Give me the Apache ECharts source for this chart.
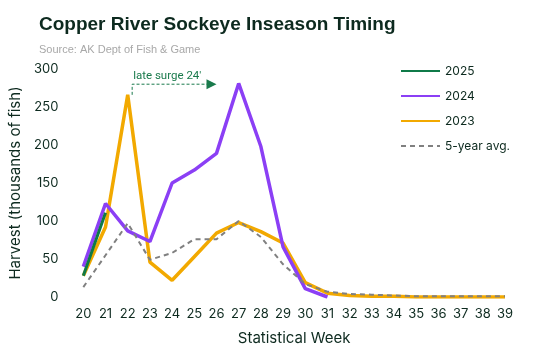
<!DOCTYPE html>
<html><head><meta charset="utf-8">
<script src="https://cdn.jsdelivr.net/npm/echarts@6/dist/echarts.min.js"></script>
<style>html,body{margin:0;padding:0;background:#fff}#c{width:535px;height:355px}</style>
</head><body><div id="c"></div>
<script>
const weeks = ['20','21','22','23','24','25','26','27','28','29','30','31','32','33','34','35','36','37','38','39'];
const s2025 = [28, 111];
const s2024 = [40, 123, 87, 73, 150, 167, 189, 281, 198, 66, 11, 0];
const s2023 = [28, 92, 266, 46, 22, 53, 84, 98, 86, 71, 19, 5, 2, 1, 1, 0, 0, 0, 0, 0];
const sAvg  = [13, 55, 97, 49, 58, 76, 76, 100, 79, 43, 17, 7, 4, 3, 2, 1, 1, 1, 1, 1];
const yTicks = [0, 50, 100, 150, 200, 250, 300];

const font = 'Inter, Roboto, sans-serif';
const dark = '#0d2a1f';
const chart = echarts.init(document.getElementById('c'), null, {renderer:'canvas'});
chart.setOption({
  animation:false,
  title:[{text:'Copper River Sockeye Inseason Timing', left:34, top:10,
    textStyle:{fontFamily:'Liberation Sans, Arial, sans-serif', fontWeight:'bold', fontSize:19, color:dark}},
    {text:'Source: AK Dept of Fish & Game', left:34, top:39,
    textStyle:{fontFamily:'Liberation Sans, Arial, sans-serif', fontWeight:'normal', fontSize:11, color:'#a8a8a8'}}],
  legend:{orient:'vertical', left:395, top:60, itemWidth:39, itemHeight:12, itemGap:13,
    itemStyle:{opacity:0},
    textStyle:{fontFamily:font, fontSize:12, color:dark},
    data:['2025','2024','2023','5-year avg.']},
  grid:{left:79, right:30, top:69, bottom:58},
  xAxis:{type:'category', data:weeks, boundaryGap:false,
    axisLine:{show:false}, axisTick:{show:false},
    axisLabel:{fontFamily:font, fontSize:13, color:dark, margin:11, interval:0},
    name:'Statistical Week', nameLocation:'middle', nameGap:34,
    nameTextStyle:{fontFamily:font, fontSize:15, color:dark}},
  yAxis:{type:'value', min:0, max:300, interval:50,
    axisLine:{show:false}, axisTick:{show:false}, splitLine:{show:false},
    axisLabel:{fontFamily:font, fontSize:13, color:dark, margin:25,
      formatter:v=>yTicks.includes(v)?String(v):''},
    name:'Harvest (thousands of fish)', nameLocation:'middle', nameGap:40,
    nameTextStyle:{fontFamily:font, fontSize:15, color:dark}},
  series:[
    {name:'2023', type:'line', data:s2023, symbol:'none', z:2,
      lineStyle:{color:'#f2a900', width:3.5}, itemStyle:{color:'#f2a900'}},
    {name:'2024', type:'line', data:s2024, symbol:'none', z:3,
      lineStyle:{color:'#8b3ff5', width:3.5}, itemStyle:{color:'#8b3ff5'}},
    {name:'5-year avg.', type:'line', data:sAvg, symbol:'none', z:4,
      lineStyle:{color:'#808080', width:2, type:[5,4]}, itemStyle:{color:'#808080'}},
    {name:'2025', type:'line', data:s2025, symbol:'none', z:5,
      lineStyle:{color:'#0f7a48', width:3}, itemStyle:{color:'#0f7a48'}}
  ]
});
const p22 = chart.convertToPixel({xAxisIndex:0, yAxisIndex:0}, ['22', 266]);
const p23 = chart.convertToPixel({xAxisIndex:0, yAxisIndex:0}, ['23', 280]);
const p26 = chart.convertToPixel({xAxisIndex:0, yAxisIndex:0}, ['26', 280]);
const xs = p22[0] + (p23[0]-p22[0])*0.2;
const green = '#1a7a4c';
chart.setOption({graphic:[
  {type:'polyline', shape:{points:[[xs,p22[1]],[xs,p23[1]],[p26[0]-9,p26[1]]]},
   style:{stroke:green, lineWidth:1, lineDash:[3,2], fill:null}},
  {type:'polygon', shape:{points:[[p26[0]-10,p26[1]-5],[p26[0],p26[1]],[p26[0]-10,p26[1]+5]]},
   style:{fill:green}},
  {type:'text', x:xs+1, y:p23[1]-2, style:{text:"late surge 24'", fill:green,
   font:'11.5px Roboto, sans-serif', textVerticalAlign:'bottom', textBaseline:'bottom'}}
]});
</script></body></html>
